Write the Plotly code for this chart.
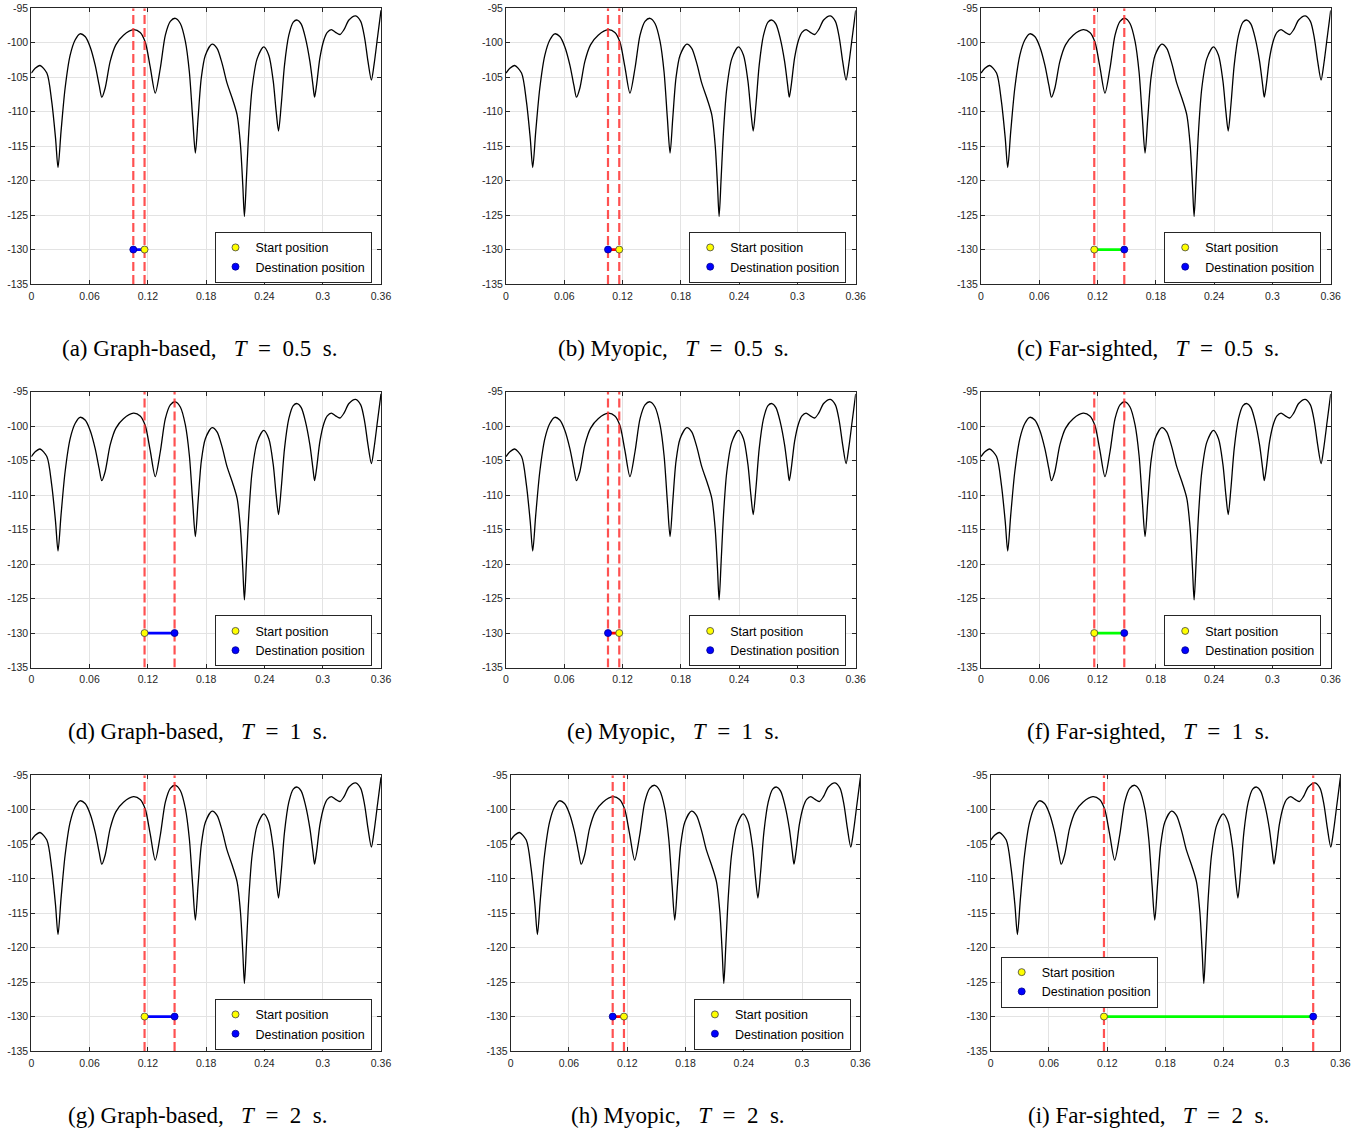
import plotly.graph_objects as go

# ---- data ----
pos_x = [0.000, 0.004, 0.009, 0.016, 0.021, 0.025, 0.0275, 0.0306, 0.0348, 0.040,
         0.0451, 0.0502, 0.0554, 0.0606, 0.0657, 0.0698, 0.0726, 0.076, 0.0812, 0.087,
         0.0949, 0.1052, 0.1121, 0.1173, 0.1224, 0.1276, 0.1328, 0.138, 0.1431, 0.1483,
         0.1534, 0.1586, 0.1627, 0.1661, 0.1689, 0.1717, 0.175, 0.1792, 0.1861, 0.1912,
         0.1964, 0.2016, 0.2074, 0.2119, 0.2153, 0.2177, 0.2194, 0.2215, 0.2239, 0.2273,
         0.2325, 0.2393, 0.2445, 0.249, 0.2521, 0.2545, 0.2573, 0.2607, 0.2651, 0.2697,
         0.2738, 0.2779, 0.2823, 0.2868, 0.2899, 0.2916, 0.2937, 0.2971, 0.3012, 0.3047,
         0.3089, 0.3133, 0.3177, 0.3219, 0.327, 0.3339, 0.3391, 0.3432, 0.3466, 0.3501,
         0.3528, 0.3563, 0.36]
power_db = [-104.4, -103.7, -103.3, -104.4, -108.5, -113.9, -118.1, -112.9, -106.6, -101.8,
            -99.6, -98.7, -99.1, -100.6, -103.2, -106.1, -107.9, -106.6, -102.7, -100.3,
            -98.9, -98.1, -98.5, -99.9, -103.5, -107.3, -103.7, -98.9, -96.9, -96.45,
            -97.2, -99.8, -104.2, -110.9, -116.0, -110.9, -105.1, -101.8, -100.2, -100.8,
            -103.0, -105.9, -108.3, -110.5, -114.8, -120.6, -125.2, -119.6, -112.9, -106.6,
            -102.3, -100.6, -101.8, -105.5, -110.0, -112.8, -109.0, -103.2, -98.9, -97.0,
            -96.7, -97.3, -99.35, -102.7, -106.1, -107.9, -106.1, -102.2, -99.6, -98.5,
            -98.1, -98.5, -98.8, -98.1, -96.7, -96.1, -96.9, -99.35, -102.7, -105.4,
            -103.2, -99.35, -95.3]

panel_labels = ["(a)", "(b)", "(c)", "(d)", "(e)", "(f)", "(g)", "(h)", "(i)"]
methods = ["Graph-based", "Myopic", "Far-sighted"] * 3
horizons = ["0.5"] * 3 + ["1"] * 3 + ["2"] * 3
start_pos = [0.1166] * 9
dest_pos = [0.105, 0.105, 0.1475, 0.1475, 0.105, 0.1475, 0.1475, 0.105, 0.332]
marker_level = -130

x_ticks = [0, 0.06, 0.12, 0.18, 0.24, 0.3, 0.36]
x_ticktext = ["0", "0.06", "0.12", "0.18", "0.24", "0.3", "0.36"]
y_ticks = [-135, -130, -125, -120, -115, -110, -105, -100, -95]
y_ticktext = ["-135", "-130", "-125", "-120", "-115", "-110", "-105", "-100", "-95"]

# ---- layout geometry (pixels) ----
W, H = 1367, 1130
col_px = [[(31.3, 381), (506, 855.7), (981, 1330.7)],
          [(31.3, 381), (506, 855.7), (981, 1330.7)],
          [(31.3, 381), (510.7, 860.4), (990.7, 1340.4)]]
row_top = [8.3, 391.8, 775.3]
plot_h = 275.7
caption_xy = [(200, 348), (673, 348), (1148, 348),
              (198, 731), (673, 731), (1148, 731),
              (198, 1115), (678, 1115), (1148, 1115)]
seg_colors = {"Graph-based": "#0000ff", "Myopic": "#ff0000", "Far-sighted": "#00ff00"}

AX = "#262626"
GRID = "#e3e3e3"
EN = "\u2002"
fig = go.Figure()
layout = dict(width=W, height=H, autosize=False, margin=dict(l=0, r=0, t=0, b=0, pad=0),
              paper_bgcolor="white", plot_bgcolor="white", showlegend=True,
              annotations=[])

for i in range(9):
    r, c = divmod(i, 3)
    n = "" if i == 0 else str(i + 1)
    xa, ya = "x" + n, "y" + n
    x0, x1 = col_px[r][c]
    yt = row_top[r]
    yb = yt + plot_h
    layout["xaxis" + n] = dict(domain=[x0 / W, x1 / W], anchor=ya, range=[0, 0.36],
                               tickvals=x_ticks, ticktext=x_ticktext, showgrid=True,
                               gridcolor=GRID, gridwidth=1, zeroline=False, showline=True,
                               linecolor=AX, linewidth=1, mirror="ticks", ticks="inside",
                               ticklen=4, tickcolor=AX, automargin=False, ticklabelstandoff=2,
                               tickfont=dict(family="Liberation Sans", size=10.5, color=AX))
    layout["yaxis" + n] = dict(domain=[1 - yb / H, 1 - yt / H], anchor=xa, range=[-135, -95],
                               tickvals=y_ticks, ticktext=y_ticktext, showgrid=True,
                               gridcolor=GRID, gridwidth=1, zeroline=False, showline=True,
                               linecolor=AX, linewidth=1, mirror="ticks", ticks="inside",
                               ticklen=4, tickcolor=AX, automargin=False,
                               tickfont=dict(family="Liberation Sans", size=10.5, color=AX))
    leg_name = "legend" + n
    if i == 8:
        leg = dict(x=1000.7 / W, y=1 - 956.5 / H, xanchor="left", yanchor="top")
    else:
        leg = dict(x=(x1 - 9.5) / W, y=1 - (yb - 1.2) / H, xanchor="right", yanchor="bottom")
    leg.update(bgcolor="white", bordercolor=AX, borderwidth=1,
               font=dict(family="Liberation Sans", size=12.5, color="black"),
               itemclick=False, itemdoubleclick=False, tracegroupgap=0)
    layout[leg_name] = leg

    fig.add_trace(go.Scatter(x=pos_x, y=power_db, mode="lines", xaxis=xa, yaxis=ya,
                             line=dict(color="black", width=1.3, shape="spline", smoothing=0.8),
                             showlegend=False, hoverinfo="skip"))
    for xv in (start_pos[i], dest_pos[i]):
        fig.add_trace(go.Scatter(x=[xv, xv], y=[-135, -95], mode="lines", xaxis=xa, yaxis=ya,
                                 line=dict(color="rgba(255,50,50,0.85)", width=2.2, dash="9px,4px"),
                                 showlegend=False, hoverinfo="skip"))
    fig.add_trace(go.Scatter(x=[start_pos[i], dest_pos[i]], y=[marker_level, marker_level],
                             mode="lines", xaxis=xa, yaxis=ya,
                             line=dict(color=seg_colors[methods[i]], width=2.7),
                             showlegend=False, hoverinfo="skip"))
    fig.add_trace(go.Scatter(x=[start_pos[i]], y=[marker_level], mode="markers", xaxis=xa, yaxis=ya,
                             name="Start position", legend=leg_name,
                             marker=dict(color="#ffff00", size=7, line=dict(color="#404040", width=0.8))))
    fig.add_trace(go.Scatter(x=[dest_pos[i]], y=[marker_level], mode="markers", xaxis=xa, yaxis=ya,
                             name="Destination position", legend=leg_name,
                             marker=dict(color="#0000ff", size=7, line=dict(color="#00008b", width=0.8))))

    cx, cy = caption_xy[i]
    caption = (f"{panel_labels[i]} {methods[i]},{EN}&nbsp;<i>T</i>{EN}={EN}"
               f"{horizons[i]}{EN}s.")
    layout["annotations"].append(dict(
        x=cx / W, y=1 - cy / H, xref="paper", yref="paper", xanchor="center", yanchor="middle",
        showarrow=False, text=caption,
        font=dict(family="Liberation Serif", size=23, color="black")))

fig.update_layout(**layout)
post = ("document.documentElement.style.margin='0px';"
        "document.body.style.margin='0px';"
        "document.body.style.overflow='hidden';"
        "document.documentElement.style.overflow='hidden';"
        "var d=document.getElementById('{plot_id}');"
        "d.style.position='absolute';d.style.left='0px';d.style.top='0px';")
fig.write_html("out.html", config={"displayModeBar": False}, post_script=post)
